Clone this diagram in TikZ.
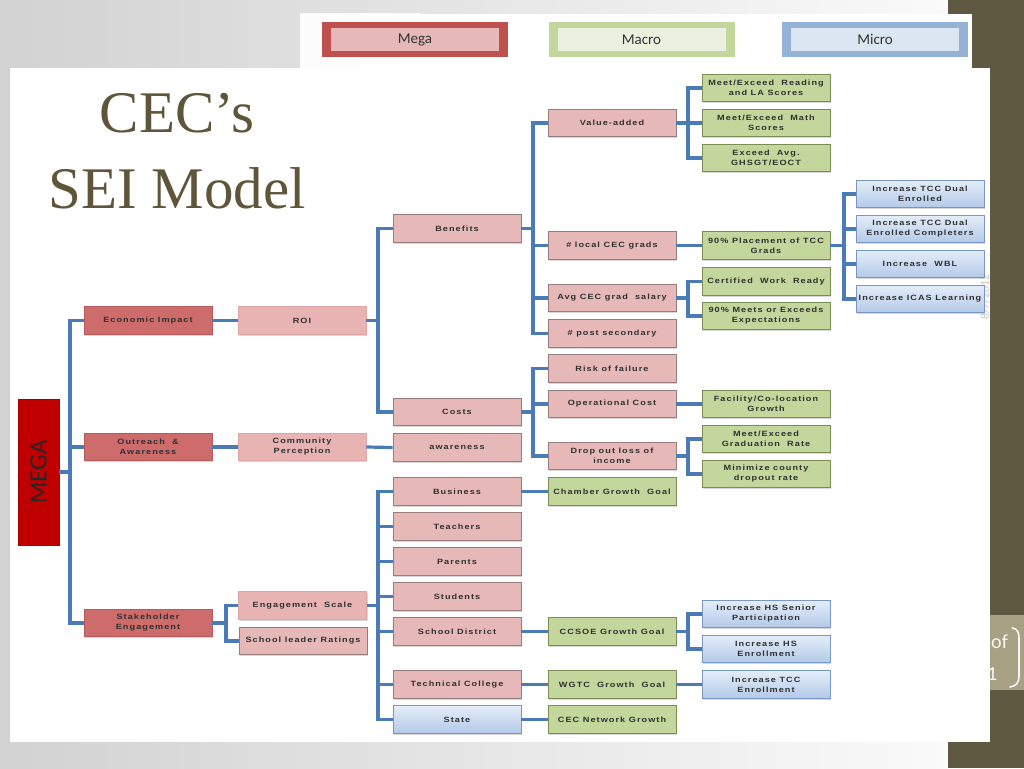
\documentclass[tikz,border=0pt]{standalone}
\usepackage{fontspec}
\setmainfont{Liberation Serif}
\newfontfamily\boxfont[FakeStretch=1.2,LetterSpace=14]{Liberation Sans Bold}
\newfontfamily\calfont{Carlito}
\usetikzlibrary{shadows}
\definecolor{bgl}{HTML}{D2D2D2}
\definecolor{bgr}{HTML}{FAFAFA}
\definecolor{band}{HTML}{605942}
\definecolor{oliveb}{HTML}{A7A083}
\definecolor{titlec}{HTML}{5E553A}
\definecolor{megared}{HTML}{C00000}
\definecolor{megaouter}{HTML}{C0504D}
\definecolor{megainner}{HTML}{E6B9B8}
\definecolor{macroouter}{HTML}{C3D69B}
\definecolor{macroinner}{HTML}{EBF1DE}
\definecolor{microouter}{HTML}{95B3D7}
\definecolor{microinner}{HTML}{DCE6F2}
\definecolor{lonefill}{HTML}{CE6B6B}
\definecolor{lonedraw}{HTML}{B85A5A}
\definecolor{ltwofill}{HTML}{E8B3B3}
\definecolor{ltwodraw}{HTML}{DCA6A6}
\definecolor{pinkfill}{HTML}{E6B9B8}
\definecolor{pinkdraw}{HTML}{967C7C}
\definecolor{greenfill}{HTML}{C3D69B}
\definecolor{greendraw}{HTML}{7C8C57}
\definecolor{bluetop}{HTML}{E4EDF9}
\definecolor{bluebot}{HTML}{B3C9E8}
\definecolor{bluedraw}{HTML}{7896C2}
\definecolor{connc}{HTML}{4A7BB6}
\definecolor{txt}{HTML}{303030}
\begin{document}
\begin{tikzpicture}[x=1pt,y=-1pt,
  box/.style={rectangle, minimum width=128pt, minimum height=27.5pt, inner sep=0pt,
    align=center, font=\boxfont\fontsize{7.6}{10}\selectfont, text=txt, line width=0.9pt,
    drop shadow={shadow xshift=1.3pt, shadow yshift=-1.3pt, opacity=0.3}},
  loneb/.style={box, fill=lonefill, draw=lonedraw},
  ltwob/.style={box, fill=ltwofill, draw=ltwodraw},
  pinkb/.style={box, fill=pinkfill, draw=pinkdraw},
  greenb/.style={box, fill=greenfill, draw=greendraw},
  blueb/.style={box, top color=bluetop, bottom color=bluebot, draw=bluedraw},
  conn/.style={draw=connc, line width=3.2pt},
  legout/.style={rectangle, minimum width=186pt, minimum height=35pt, inner sep=0pt},
  legin/.style={rectangle, minimum width=168pt, minimum height=23pt, inner sep=0pt,
    font=\calfont\fontsize{15}{15}\selectfont, text=black!80}
]
\useasboundingbox (0,0) rectangle (1024,768);
% background
\shade[left color=bgl, right color=bgr] (0,0) rectangle (948,768);
\fill[band] (948,0) rectangle (1024,768);
\shade[left color=bgr!60!white, right color=white] (300,14) rectangle (420,68);
\fill[white] (420,14) rectangle (972,68);
\fill[white] (10,68) rectangle (990,742);
\fill[oliveb] (990,615) rectangle (1024,690);
\begin{scope}
\clip (990,615) rectangle (1024,690);
\node[anchor=base west, font=\calfont\fontsize{20}{20}\selectfont, text=white!92!oliveb, inner sep=0pt] (pgof) at (991,648) {of};
\node[anchor=base west, font=\calfont\fontsize{20}{20}\selectfont, text=white!92!oliveb, inner sep=0pt] (pgone) at (987,680) {1};
\end{scope}
\draw[white!92!oliveb, line width=1.6pt, line cap=round] (1012,628) .. controls (1019,629) and (1019,634) .. (1019,640) -- (1019,676) .. controls (1019,683) and (1016,686) .. (1010,687);
\node[rotate=90, font=\calfont\fontsize{12}{12}\selectfont, text=black!22, inner sep=0pt] (date) at (985,297) {8/7/2012};

% legend
\node[legout, fill=megaouter] (legmega) at (415,39.5) {};
\node[legin, fill=megainner] (legmegat) at (415,39.5) {Mega};
\node[legout, fill=macroouter] (legmacro) at (641.5,39.5) {};
\node[legin, fill=macroinner] (legmacrot) at (641.5,39.5) {Macro};
\node[legout, fill=microouter] (legmicro) at (875,39.5) {};
\node[legin, fill=microinner] (legmicrot) at (875,39.5) {Micro};

% title
\node[anchor=base, font=\fontsize{59}{60}\selectfont, text=titlec, inner sep=0pt] (title1) at (177,132) {CEC’s};
\node[anchor=base, font=\fontsize{59}{60}\selectfont, text=titlec, inner sep=0pt] (title2) at (177,208) {SEI Model};

% trunk coordinates
\coordinate (Ta) at (70,0);
\coordinate (Tb) at (226,0);
\coordinate (Tc) at (378,0);
\coordinate (Td) at (533,0);
\coordinate (Te) at (688,0);
\coordinate (Tf) at (844,0);

% MEGA
\node[rectangle, fill=megared, draw=megared!85!black, line width=0.6pt, minimum width=41pt, minimum height=146pt, inner sep=0pt,
  drop shadow={shadow xshift=1.3pt, shadow yshift=-1.3pt, opacity=0.3}] (mega) at (38.5,472) {};
\node[rotate=90, font=\calfont\fontsize{25}{25}\selectfont, text=black!85, inner sep=0pt] (megat) at (mega.center) {MEGA};

% level 1
\node[loneb] (econ) at (148,320.5) {Economic Impact};
\node[loneb] (outr) at (148,447) {Outreach \ \&\\Awareness};
\node[loneb] (stake) at (148,623) {Stakeholder\\Engagement};

% level 2
\node[ltwob] (roi) at (302,320.5) {ROI};
\node[ltwob] (comm) at (302,447) {Community\\Perception};
\node[ltwob] (engs) at (302.5,605.5) {Engagement \ Scale};
\node[pinkb] (sleader) at (303,641) {School leader Ratings};

% level 3
\node[pinkb] (bene) at (457,228.5) {Benefits};
\node[pinkb] (costs) at (457,412) {Costs};
\node[pinkb] (aware) at (457,447.5) {awareness};
\node[pinkb] (busi) at (457,491.5) {Business};
\node[pinkb] (teach) at (457,526.5) {Teachers};
\node[pinkb] (paren) at (457,561.5) {Parents};
\node[pinkb] (stud) at (457,596.5) {Students};
\node[pinkb] (sdist) at (457,631.5) {School District};
\node[pinkb] (tech) at (457,684.5) {Technical College};
\node[blueb] (state) at (457,719.5) {State};

% level 4
\node[pinkb] (value) at (612,123) {Value-added};
\node[pinkb] (local) at (612,245.5) {\# local CEC grads};
\node[pinkb] (avg) at (612,298) {Avg CEC grad \ salary};
\node[pinkb] (post) at (612,333.5) {\# post secondary};
\node[pinkb] (risk) at (612,368.5) {Risk of failure};
\node[pinkb] (oper) at (612,404) {Operational Cost};
\node[pinkb] (drop) at (612,456) {Drop out loss of\\income};
\node[greenb] (chamb) at (612,491.5) {Chamber Growth \ Goal};
\node[greenb] (ccsoe) at (612,631.5) {CCSOE Growth Goal};
\node[greenb] (wgtc) at (612,684.5) {WGTC \ Growth \ Goal};
\node[greenb] (cecnet) at (612,719.5) {CEC Network Growth};

% level 5
\node[greenb] (readla) at (766,88) {Meet/Exceed \ Reading\\and LA Scores};
\node[greenb] (math) at (766,123) {Meet/Exceed \ Math\\Scores};
\node[greenb] (exavg) at (766,158) {Exceed \ Avg.\\GHSGT/EOCT};
\node[greenb] (place) at (766,245.5) {90\% Placement of TCC\\Grads};
\node[greenb] (cert) at (766,281.5) {Certified \ Work \ Ready};
\node[greenb] (meets) at (766,316) {90\% Meets or Exceeds\\Expectations};
\node[greenb] (facil) at (766,404) {Facility/Co-location\\Growth};
\node[greenb] (grad) at (766,439) {Meet/Exceed\\Graduation \ Rate};
\node[greenb] (minim) at (766,474) {Minimize county\\dropout rate};
\node[blueb] (hssen) at (766,614) {Increase HS Senior\\Participation};
\node[blueb] (hsenr) at (766,649) {Increase HS\\Enrollment};
\node[blueb] (tccenr) at (766,684.5) {Increase TCC\\Enrollment};

% level 6
\node[blueb] (dual) at (920,194) {Increase TCC Dual\\Enrolled};
\node[blueb] (dualc) at (920,229) {Increase TCC Dual\\Enrolled Completers};
\node[blueb] (wbl) at (920,264) {Increase \ WBL};
\node[blueb] (icas) at (920,299) {Increase ICAS Learning};

% connectors
\foreach \c in {econ,outr,stake} \draw[conn] (mega.east) -- (mega.east -| Ta) |- (\c.west);
\draw[conn] (econ.east) -- (roi.west);
\draw[conn] (outr.east) -- (comm.west);
\foreach \c in {engs,sleader} \draw[conn] (stake.east) -- (stake.east -| Tb) |- (\c.west);
\foreach \c in {bene,costs} \draw[conn] (roi.east) -- (roi.east -| Tc) |- (\c.west);
\draw[conn] (comm.east) -- (aware.west);
\foreach \c in {busi,teach,paren,stud,sdist,tech,state} \draw[conn] (engs.east) -- (engs.east -| Tc) |- (\c.west);
\foreach \c in {value,local,avg,post} \draw[conn] (bene.east) -- (bene.east -| Td) |- (\c.west);
\foreach \c in {risk,oper,drop} \draw[conn] (costs.east) -- (costs.east -| Td) |- (\c.west);
\draw[conn] (busi.east) -- (chamb.west);
\draw[conn] (sdist.east) -- (ccsoe.west);
\draw[conn] (tech.east) -- (wgtc.west);
\draw[conn] (state.east) -- (cecnet.west);
\foreach \c in {readla,math,exavg} \draw[conn] (value.east) -- (value.east -| Te) |- (\c.west);
\draw[conn] (local.east) -- (place.west);
\foreach \c in {cert,meets} \draw[conn] (avg.east) -- (avg.east -| Te) |- (\c.west);
\draw[conn] (oper.east) -- (facil.west);
\foreach \c in {grad,minim} \draw[conn] (drop.east) -- (drop.east -| Te) |- (\c.west);
\foreach \c in {hssen,hsenr} \draw[conn] (ccsoe.east) -- (ccsoe.east -| Te) |- (\c.west);
\draw[conn] (wgtc.east) -- (tccenr.west);
\foreach \c in {dual,dualc,wbl,icas} \draw[conn] (place.east) -- (place.east -| Tf) |- (\c.west);
\end{tikzpicture}
\end{document}
